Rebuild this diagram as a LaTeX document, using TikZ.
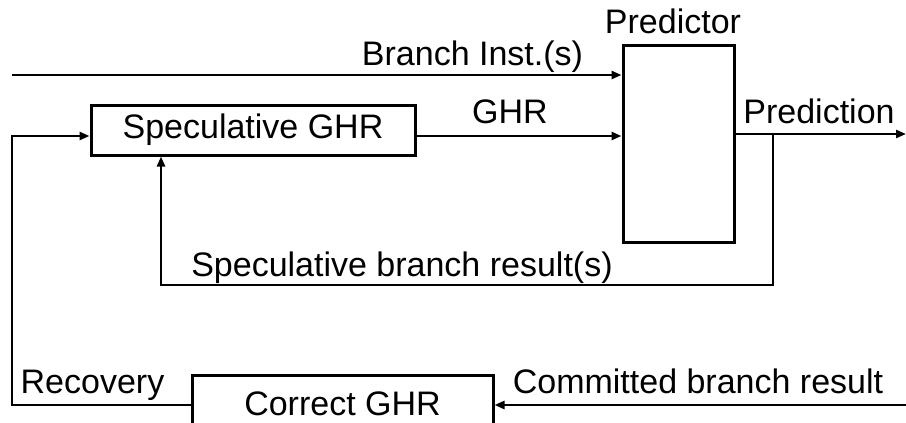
\documentclass[tikz,border=0pt]{standalone}
\usepackage{fontspec}
\setmainfont{Liberation Sans}
\usetikzlibrary{arrows.meta}

\tikzset{
  wire/.style={line width=2.8pt, -{Triangle[length=10pt,width=8pt]}},
  block/.style={draw, line width=3pt, inner sep=0pt, rectangle},
  txt/.style={font=\fontsize{34}{38}\selectfont},
  lbl/.style={txt, anchor=base, inner sep=0pt}
}

\begin{document}
\begin{tikzpicture}[x=1pt, y=-1pt]
  \useasboundingbox (0,0) rectangle (906,423);
  \clip (0,0) rectangle (906,423);

  % blocks
  \node[block, minimum width=111pt, minimum height=197pt] (pred) at (678.5,143.5) {};
  \node[block, txt, minimum width=324pt, minimum height=50pt] (sghr) at (253,130) {Speculative GHR};
  \node[block, txt, minimum width=301pt, minimum height=58pt] (cghr) at (342.5,404) {Correct GHR};

  % free ends and bends
  \coordinate (instin) at (12,75);
  \coordinate (predout) at (906,134);
  \coordinate (tap) at (773,134);
  \coordinate (fbcorner) at (773,285);
  \coordinate (fbturn) at (161,285);
  \coordinate (commitin) at (906,405);
  \coordinate (reclow) at (12,405);
  \coordinate (rechigh) at (12,136);

  % forward paths
  \draw[wire] (instin) -- (instin -| pred.west);
  \draw[wire] (sghr.east |- 0,136) -- (pred.west |- 0,136);
  \draw[wire] (pred.east |- predout) -- (predout);

  % speculative update loop
  \draw[wire] (tap) -- (fbcorner) -- (fbturn) -- (fbturn |- sghr.south);

  % recovery path
  \draw[wire] (cghr.west |- reclow) -- (reclow) -- (rechigh) -- (sghr.west |- rechigh);
  \draw[wire] (commitin) -- (cghr.east |- commitin);

  % labels
  \node[lbl] (tpred) at (673,33) {Predictor};
  \node[lbl] (tinst) at (472.5,65) {Branch Inst.(s)};
  \node[lbl] (tghr) at (510,123) {GHR};
  \node[lbl] (tout) at (819,123) {Prediction};
  \node[lbl] (tspec) at (402,276) {Speculative branch result(s)};
  \node[lbl] (trec) at (92.5,393) {Recovery};
  \node[lbl] (tcom) at (698,393) {Committed branch result};
\end{tikzpicture}
\end{document}
